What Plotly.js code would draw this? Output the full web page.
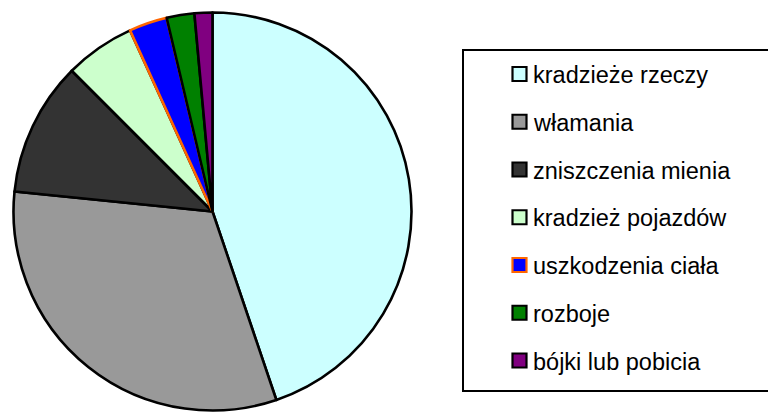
<!DOCTYPE html>
<html>
<head>
<meta charset="utf-8">
<script src="https://cdn.plot.ly/plotly-3.0.1.min.js"></script>
<style>html,body{margin:0;padding:0;background:#fff;}#chart{width:768px;height:412px;}</style>
</head>
<body>
<div id="chart"></div>
<script>
var categories = ["kradzieże rzeczy", "włamania", "zniszczenia mienia", "kradzież pojazdów", "uszkodzenia ciała", "rozboje", "bójki lub pobicia"];
var values = [44.8, 31.8, 10.9, 5.7, 3.1, 2.25, 1.45];
var fillColors = ["#CCFFFF", "#999999", "#333333", "#CCFFCC", "#0000FF", "#008000", "#800080"];
var edgeColors = ["#000000", "#000000", "#000000", "#000000", "#FF6600", "#000000", "#000000"];

var W = 768, H = 412;
function px(x) { return x / W; }
function py(y) { return 1 - y / H; }

var cx = 212.5, cy = 211.5, r = 199;

var trace = {
  type: "pie",
  labels: categories,
  values: values,
  sort: false,
  direction: "clockwise",
  rotation: 0,
  textinfo: "none",
  hoverinfo: "label+percent",
  marker: { colors: fillColors, line: { color: edgeColors, width: 2.6 } },
  domain: { x: [px(cx - r), px(cx + r)], y: [py(cy + r), py(cy - r)] },
  showlegend: false
};

var shapes = [];
var annotations = [];
// legend frame
shapes.push({ type: "rect", xref: "paper", yref: "paper", x0: px(463), x1: px(790), y0: py(391), y1: py(50), line: { color: "#000", width: 2 }, fillcolor: "rgba(0,0,0,0)" });
var row0 = 74, rowGap = 47.75, sq = 14;
for (var i = 0; i < categories.length; i++) {
  var yc = row0 + i * rowGap;
  shapes.push({ type: "rect", xref: "paper", yref: "paper", x0: px(512.5), x1: px(512.5 + sq), y0: py(yc + sq / 2), y1: py(yc - sq / 2), fillcolor: fillColors[i], line: { color: edgeColors[i], width: 2.2 } });
  annotations.push({ xref: "paper", yref: "paper", x: px(531), y: py(yc + 1), xanchor: "left", yanchor: "middle", text: categories[i], showarrow: false, font: { family: "'Liberation Sans', Arial, sans-serif", size: 23.5, color: "#000" } });
}

var layout = {
  width: W, height: H,
  margin: { l: 0, r: 0, t: 0, b: 0 },
  paper_bgcolor: "#fff",
  plot_bgcolor: "#fff",
  showlegend: false,
  shapes: shapes,
  annotations: annotations
};

Plotly.newPlot("chart", [trace], layout, { displayModeBar: false, staticPlot: true });
</script>
</body>
</html>
